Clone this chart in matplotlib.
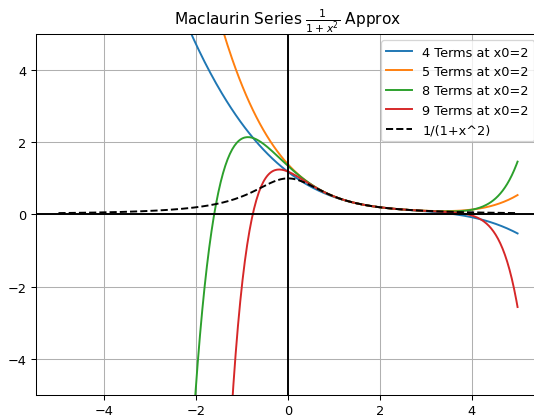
import matplotlib
matplotlib.use('Agg')
import matplotlib.pyplot as plt
import numpy as np

# Taylor coefficients of 1/(1+x^2) about x0 = 2 (powers of (x-2))
x0 = 2
taylor_coeffs = [0.2, -0.16, 0.088, -0.0384, 0.01312, -0.002816,
                 -0.0003712, 0.00086016, -0.000613888]
term_counts = [4, 5, 8, 9]
colors = ['#1f77b4', '#ff7f0e', '#2ca02c', '#d62728']

x = np.linspace(-5, 5, 400)

dpi = 92.6
fig = plt.figure(figsize=(534 / dpi, 417 / dpi), dpi=dpi)
ax = fig.add_axes([0.0665, 0.0504, 0.9457, 0.8657])

for n, c in zip(term_counts, colors):
    y = np.polynomial.polynomial.polyval(x - x0, taylor_coeffs[:n])
    ax.plot(x, y, color=c, label=f'{n} Terms at x0={x0}')

ax.plot(x, 1 / (1 + x**2), 'k--', label='1/(1+x^2)')

ax.axhline(0, color='k')
ax.axvline(0, color='k')
ax.set_xlim(-5.5, 5.5)
ax.set_ylim(-5, 5)
ax.grid(True)
ax.set_title(r'Maclaurin Series $\frac{1}{1+x^2}$ Approx')
ax.legend(loc='upper right')

fig.savefig('out.png', dpi=dpi)
